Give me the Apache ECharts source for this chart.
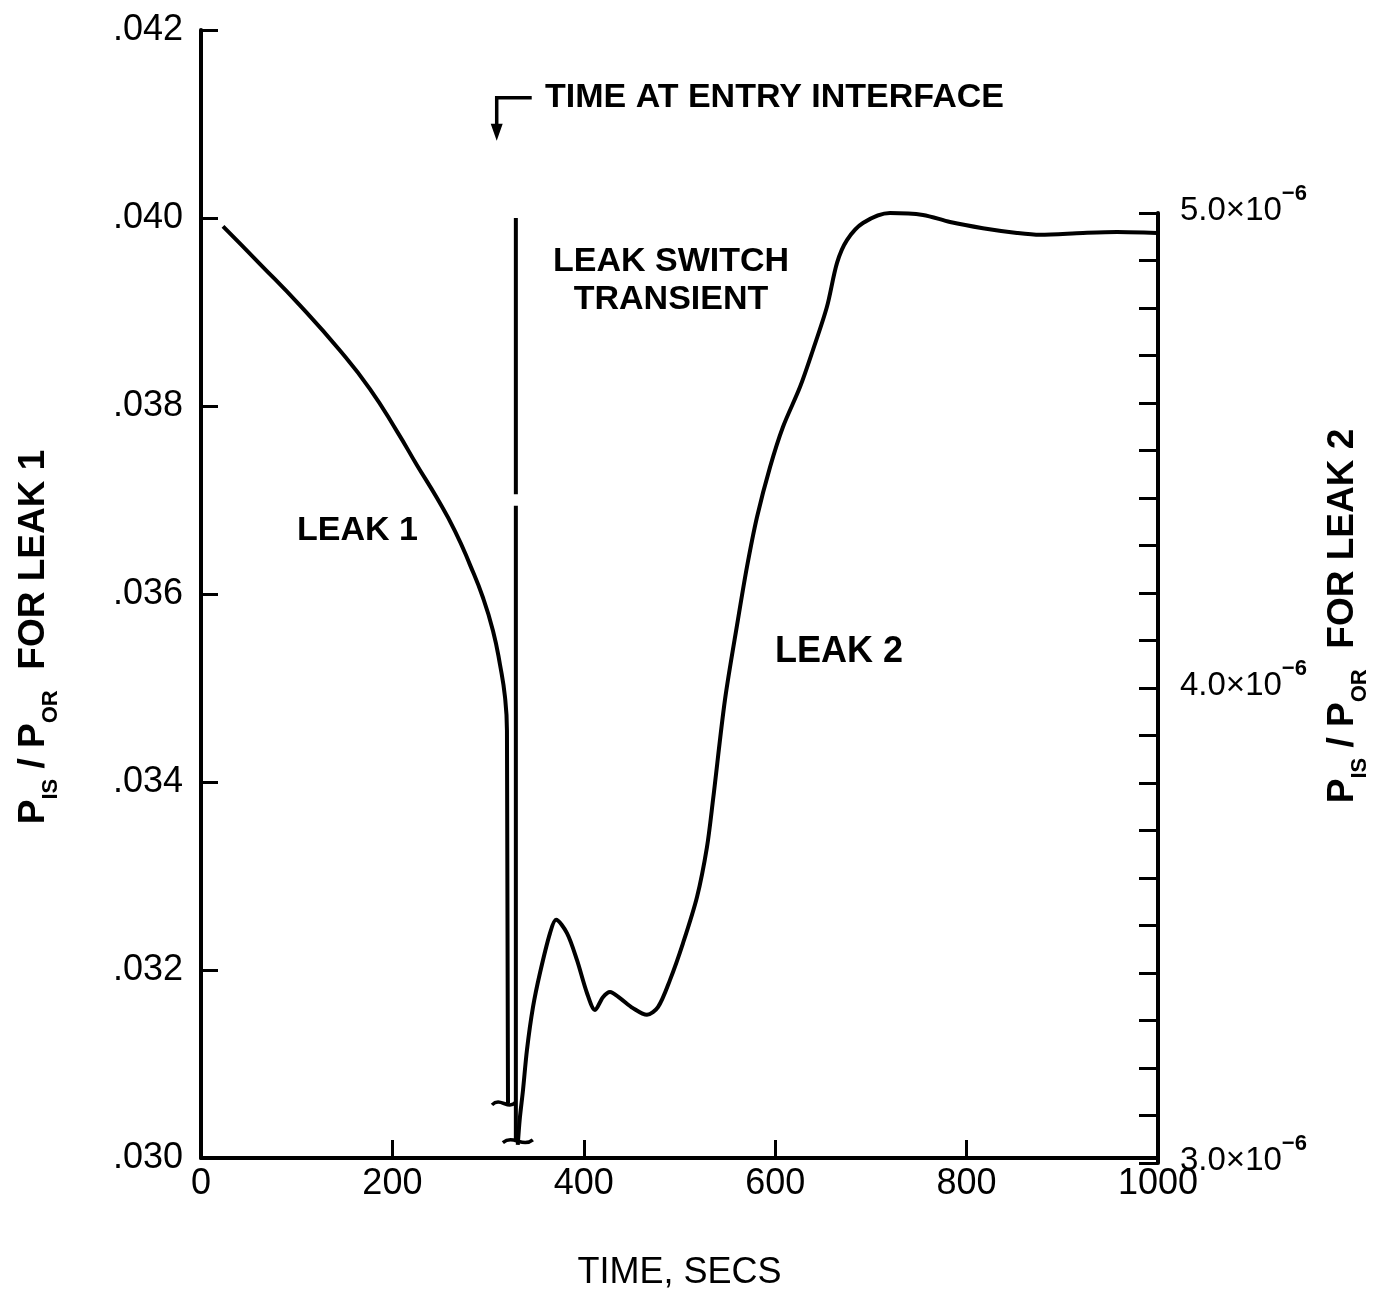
<!DOCTYPE html>
<html><head><meta charset="utf-8">
<script src="https://cdn.jsdelivr.net/npm/echarts@6/dist/echarts.min.js"></script>
<style>html,body{margin:0;padding:0;background:#fff}#c{width:1379px;height:1296px}</style>
</head><body><div id="c"></div>
<script>
// ---- data ----
const timeTicks = [0, 200, 400, 600, 800, 1000];
const leak1Time  = [23, 61.7, 103.4, 145.2, 176.6, 204.8, 225.7, 246.6, 265.4, 281.1, 294.7, 305.1, 312.4, 317.7, 319.7, 320.8];
const leak1Ratio = [0.03991, 0.03951, 0.03907, 0.03859, 0.03818, 0.03773, 0.03737, 0.03702, 0.03667, 0.03631, 0.03596, 0.03561, 0.03525, 0.0349, 0.03455, 0.03058];
const transientTime  = [329, 329, 329, 329, 329];
const transientRatio = [0.0400, 0.03706, null, 0.03694, 0.0302];
const leak2Time  = [331, 333, 336.5, 340.6, 346.9, 354.2, 364.7, 371, 382.4, 392.9, 403.3, 411.7, 420, 427.4, 437.8, 451.4, 466, 477.5, 490, 503.7, 518.3, 528.7, 535, 547.5, 561, 570.5, 581, 594.6, 608, 626, 639.5, 654, 664.6, 675, 691.7, 720, 754.4, 782.7, 817, 852.7, 876.7, 921.6, 957.2, 999];
const leak2Ratio = [3.038, 3.091, 3.154, 3.238, 3.328, 3.4, 3.484, 3.512, 3.484, 3.427, 3.358, 3.322, 3.349, 3.36, 3.347, 3.326, 3.312, 3.328, 3.385, 3.463, 3.56, 3.665, 3.764, 3.975, 4.143, 4.255, 4.36, 4.465, 4.549, 4.634, 4.712, 4.802, 4.895, 4.943, 4.979, 5.0, 4.996, 4.981, 4.968, 4.958, 4.954, 4.958, 4.96, 4.958]; // ×10^-6
const entryInterfaceTime = 309;
const leftAxisName  = ['P', 'IS', ' / P', 'OR', '  FOR LEAK 1'];
const rightAxisName = ['P', 'IS', ' / P', 'OR', '  FOR LEAK 2'];

const FONT = 'Liberation Sans';
const zip = (a, b) => a.map((v, i) => [v, b[i]]);

const chart = echarts.init(document.getElementById('c'), null, {renderer: 'canvas'});
const axisLineStyle = {color: '#000', width: 4};
const nameRich = {
  m: {fontFamily: FONT, fontWeight: 'bold', fontSize: 37, lineHeight: 56, verticalAlign: 'middle', color: '#000'},
  s: {fontFamily: FONT, fontWeight: 'bold', fontSize: 22, lineHeight: 20, verticalAlign: 'bottom', color: '#000'}
};
const nameText = p => `{m|${p[0]}}{s|${p[1]}}{m|${p[2]}}{s|${p[3]}}{m|${p[4]}}`;

chart.setOption({
  animation: false,
  backgroundColor: '#fff',
  grid: [
    {left: 201, right: 221, top: 30, bottom: 133},
    {left: 201, right: 221, top: 213, bottom: 133}
  ],
  xAxis: [
    {
      gridIndex: 0, type: 'value', min: timeTicks[0], max: timeTicks[timeTicks.length - 1], interval: 200,
      axisLine: {lineStyle: axisLineStyle},
      axisTick: {inside: true, length: 18, lineStyle: {color: '#000', width: 3}},
      axisLabel: {color: '#000', fontFamily: FONT, fontSize: 36, margin: 8, formatter: v => String(v)},
      splitLine: {show: false},
      name: 'TIME, SECS', nameLocation: 'middle', nameGap: 97,
      nameTextStyle: {color: '#000', fontFamily: FONT, fontSize: 36}
    },
    {gridIndex: 1, type: 'value', min: 0, max: 1000, show: false}
  ],
  yAxis: [
    {
      gridIndex: 0, type: 'value', min: 0.030, max: 0.042, interval: 0.002, position: 'left',
      axisLine: {show: true, onZero: false, lineStyle: axisLineStyle},
      axisTick: {show: true, inside: true, length: 17, lineStyle: {color: '#000', width: 3}},
      axisLabel: {color: '#000', fontFamily: FONT, fontSize: 36, margin: 18,
        formatter: v => v.toFixed(3).replace(/^0/, '')},
      splitLine: {show: false}
    },
    {
      gridIndex: 1, type: 'value', min: 3.0, max: 5.0, interval: 0.1, position: 'right',
      axisLine: {show: true, onZero: false, lineStyle: axisLineStyle},
      axisTick: {show: true, inside: true, length: 19, lineStyle: {color: '#000', width: 3}},
      axisLabel: {
        margin: 22, padding: [0, 0, 16, 0],
        formatter: v => Math.abs(v - Math.round(v)) < 1e-6 ? `{n|${v.toFixed(1)}×10}{e|−6}` : '',
        rich: {
          n: {fontFamily: FONT, fontSize: 33, lineHeight: 44, verticalAlign: 'bottom', color: '#000'},
          e: {fontFamily: FONT, fontSize: 22, fontWeight: 'bold', lineHeight: 22, verticalAlign: 'top', color: '#000'}
        }
      },
      splitLine: {show: false}
    }
  ],
  series: [
    {
      name: 'Leak 1', type: 'line', xAxisIndex: 0, yAxisIndex: 0,
      data: zip(leak1Time, leak1Ratio), smooth: 0.5,
      showSymbol: false, lineStyle: {color: '#000', width: 4}
    },
    {
      name: 'Leak switch transient', type: 'line', xAxisIndex: 0, yAxisIndex: 0,
      data: zip(transientTime, transientRatio), connectNulls: false,
      showSymbol: false, lineStyle: {color: '#000', width: 4}
    },
    {
      name: 'Leak 2', type: 'line', xAxisIndex: 1, yAxisIndex: 1, clip: false,
      data: zip(leak2Time, leak2Ratio), smooth: 0.3,
      showSymbol: false, lineStyle: {color: '#000', width: 4}
    }
  ]
});

// ---- annotations ----
const arrowTop = chart.convertToPixel({xAxisIndex: 0, yAxisIndex: 0}, [entryInterfaceTime, 0.04128]);
const leak1End = chart.convertToPixel({xAxisIndex: 0, yAxisIndex: 0}, [leak1Time[leak1Time.length - 1], leak1Ratio[leak1Ratio.length - 1]]);
const transEnd = chart.convertToPixel({xAxisIndex: 0, yAxisIndex: 0}, [transientTime[transientTime.length - 1], transientRatio[transientRatio.length - 1]]);

function tilde(cx, cy, w, h) {
  return {type: 'bezierCurve', shape: {x1: cx - w / 2, y1: cy + h * 0.2, cpx1: cx - w * 0.15, cpy1: cy - h, cpx2: cx + w * 0.15, cpy2: cy + h, x2: cx + w / 2, y2: cy - h * 0.2},
    style: {stroke: '#000', lineWidth: 3.5, fill: null}, z: 10};
}
function txt(x, y, text, opts) {
  return Object.assign({type: 'text', x: x, y: y, z: 10,
    style: Object.assign({text: text, fill: '#000', font: `bold 34px "${FONT}"`, textAlign: 'left', textVerticalAlign: 'middle', align: 'left', verticalAlign: 'middle'}, opts || {})});
}

chart.setOption({
  graphic: [
    {type: 'polyline', shape: {points: [[arrowTop[0] + 35, arrowTop[1]], [arrowTop[0], arrowTop[1]], [arrowTop[0], arrowTop[1] + 30]]},
      style: {stroke: '#000', lineWidth: 3.5, fill: null}},
    {type: 'polygon', shape: {points: [[arrowTop[0] - 6, arrowTop[1] + 26], [arrowTop[0] + 6, arrowTop[1] + 26], [arrowTop[0], arrowTop[1] + 43]]},
      style: {fill: '#000'}},
    txt(545, 98, 'TIME AT ENTRY INTERFACE'),
    txt(671, 281, 'LEAK SWITCH\nTRANSIENT', {textAlign: 'center', align: 'center', lineHeight: 38}),
    txt(297, 531, 'LEAK 1'),
    txt(775, 652, 'LEAK 2', {font: `bold 36px "${FONT}"`}),
    tilde(leak1End[0] - 4, leak1End[1], 24, 7),
    tilde(transEnd[0] + 2, transEnd[1] + 2, 30, 7),
    {type: 'text', x: 34, y: 637, rotation: Math.PI / 2, z: 10,
      style: {text: nameText(leftAxisName), rich: nameRich, textAlign: 'center', textVerticalAlign: 'middle', align: 'center', verticalAlign: 'middle'}},
    {type: 'text', x: 1343, y: 616, rotation: Math.PI / 2, z: 10,
      style: {text: nameText(rightAxisName), rich: nameRich, textAlign: 'center', textVerticalAlign: 'middle', align: 'center', verticalAlign: 'middle'}}
  ]
});
</script></body></html>
